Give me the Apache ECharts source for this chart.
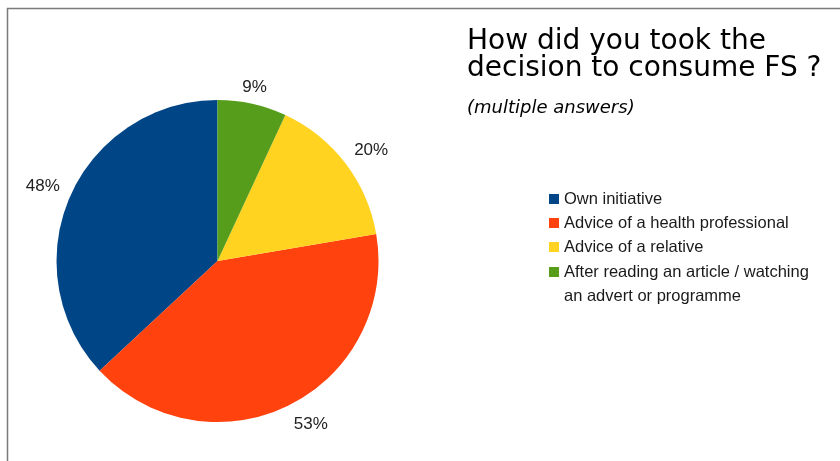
<!DOCTYPE html>
<html>
<head>
<meta charset="utf-8">
<script src="https://cdn.jsdelivr.net/npm/echarts@6/dist/echarts.min.js"></script>
<style>
  html, body { margin: 0; padding: 0; background: #ffffff; }
  #chart { width: 840px; height: 461px; }
</style>
</head>
<body>
<div id="chart"></div>
<script>
// Survey answers (multiple answers allowed, so shares add up to more than 100)
const categories = [
  'Own initiative',
  'Advice of a health professional',
  'Advice of a relative',
  'After reading an article / watching\nan advert or programme'
];
const percentValues = [48, 53, 20, 9];
const sliceColors = ['#004586', '#ff420e', '#ffd320', '#579d1c'];

const titleLines = ['How did you took the', 'decision to consume FS ?'];
const subtitle = '(multiple answers)';

const pieCenter = [217.5, 261];
const pieRadius = 161;
const labelGap = 11;
const labelFontSize = 17;

const total = percentValues.reduce((a, b) => a + b, 0);

// Mid angle (degrees, counter-clockwise, slices start at 12 o'clock) of a slice
function midAngle(index) {
  let before = 0;
  for (let i = 0; i < index; i++) before += percentValues[i];
  return 90 + (before + percentValues[index] / 2) / total * 360;
}

const chart = echarts.init(document.getElementById('chart'), null, { renderer: 'canvas' });

const baseLegend = {
  orient: 'vertical',
  left: 549,
  padding: 0,
  itemWidth: 10,
  itemHeight: 10,
  itemGap: 0,
  icon: 'rect',
  selectedMode: false,
  textStyle: {
    fontFamily: 'Liberation Sans',
    fontSize: 16.5,
    lineHeight: 24,
    color: '#1a1a1a'
  }
};

chart.setOption({
  backgroundColor: '#ffffff',
  animation: false,
  color: sliceColors,
  title: {
    text: titleLines.join('\n'),
    subtext: subtitle,
    left: 467,
    top: 28,
    padding: 0,
    itemGap: 15,
    textStyle: {
      fontFamily: 'DejaVu Sans',
      fontSize: 28,
      fontWeight: 'normal',
      lineHeight: 27,
      color: '#000000'
    },
    subtextStyle: {
      fontFamily: 'DejaVu Sans',
      fontSize: 18,
      fontStyle: 'italic',
      lineHeight: 20,
      color: '#000000'
    }
  },
  legend: [
    Object.assign({}, baseLegend, {
      top: 187,
      data: categories.slice(0, 3)
    }),
    // Two-line entry: a leading blank line keeps the marker level with the first text line
    Object.assign({}, baseLegend, {
      top: 236,
      formatter: function (name) { return '\n' + name; },
      data: [categories[3]]
    })
  ],
  graphic: [{
    type: 'rect',
    silent: true,
    shape: { x: 7.5, y: 8.5, width: 900, height: 600 },
    style: { fill: 'none', stroke: '#7a7a7a', lineWidth: 1.5 }
  }],
  series: [{
    type: 'pie',
    center: pieCenter,
    radius: pieRadius,
    startAngle: 90,
    clockwise: false,
    avoidLabelOverlap: false,
    label: {
      show: true,
      position: 'outside',
      formatter: '{c}%',
      fontFamily: 'Liberation Sans',
      fontSize: labelFontSize,
      color: '#222222'
    },
    labelLine: { show: false },
    // Anchor each label just outside the rim on the slice's mid angle; the label
    // box hangs off that anchor on the side facing away from the pie.
    labelLayout: function (params) {
      const a = midAngle(params.dataIndex) * Math.PI / 180;
      const c = Math.cos(a), s = Math.sin(a);
      const w = params.labelRect.width;
      const h = labelFontSize * 0.72 + 3;
      const ax = pieCenter[0] + (pieRadius + labelGap) * c;
      const ay = pieCenter[1] - (pieRadius + labelGap) * s;
      const hx = Math.abs(c) < 0.3 ? 0 : (c > 0 ? 1 : -1);
      const vy = Math.abs(s) < 0.3 ? 0 : (s > 0 ? -1 : 1);
      return {
        x: ax + hx * w / 2,
        y: ay + vy * h / 2 + 1.5,
        align: 'center',
        verticalAlign: 'middle'
      };
    },
    itemStyle: { borderWidth: 0 },
    emphasis: { disabled: true },
    data: categories.map((name, i) => ({ name: name, value: percentValues[i] }))
  }]
});
</script>
</body>
</html>
